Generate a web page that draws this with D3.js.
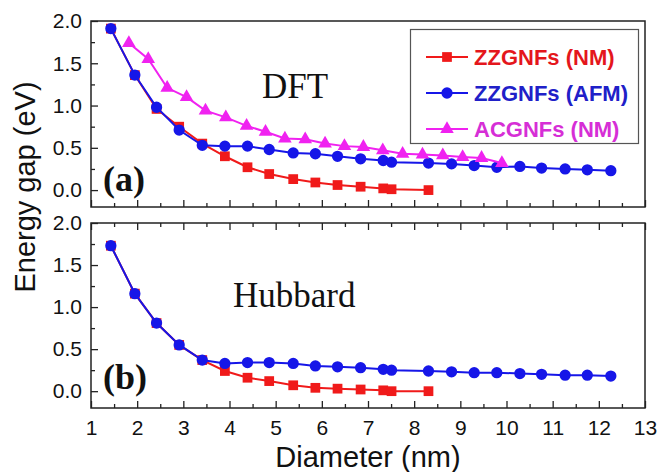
<!DOCTYPE html>
<html>
<head>
<meta charset="utf-8">
<script src="https://cdn.jsdelivr.net/npm/d3@7"></script>
<style>
    body { margin: 0; background: #ffffff; }
    .tick text { font-family: "Liberation Sans", Arial, sans-serif; font-size: 21px; fill: #111; }
    .tick line { stroke: #222; stroke-width: 1.3; }
</style>
</head>
<body>
<div id="chart-div"></div>
<script>
// ---- data ----
// DFT panel (a)
const dftZigzagX = [1.43, 1.95, 2.42, 2.91, 3.41, 3.90, 4.39, 4.86, 5.38, 5.86, 6.34, 6.84, 7.33, 7.51, 8.31];
const dftZigzagNM = [1.91, 1.36, 0.96, 0.75, 0.55, 0.40, 0.27, 0.19, 0.13, 0.09, 0.06, 0.04, 0.02, 0.01, 0.00];
const afmX = [1.43, 1.95, 2.42, 2.91, 3.41, 3.90, 4.39, 4.86, 5.38, 5.86, 6.34, 6.84, 7.33, 7.51, 8.31,
    8.81, 9.30, 9.79, 10.29, 10.76, 11.27, 11.75, 12.26];
const dftZigzagAFM = [1.91, 1.36, 0.98, 0.71, 0.53, 0.52, 0.52, 0.48, 0.44, 0.43, 0.40, 0.37, 0.35, 0.33, 0.32,
    0.31, 0.29, 0.27, 0.28, 0.26, 0.25, 0.24, 0.23];
const dftArmchairX = [1.82, 2.24, 2.65, 3.07, 3.48, 3.92, 4.37, 4.78, 5.20, 5.64, 6.07, 6.49, 6.90, 7.32,
    7.75, 8.18, 8.62, 9.05, 9.46, 9.90];
const dftArmchairNM = [1.74, 1.55, 1.21, 1.10, 0.94, 0.86, 0.76, 0.69, 0.61, 0.60, 0.55, 0.52, 0.51, 0.47,
    0.43, 0.42, 0.41, 0.39, 0.38, 0.32];
// Hubbard panel (b)
const hubZigzagNM = [1.73, 1.16, 0.81, 0.55, 0.37, 0.24, 0.16, 0.12, 0.07, 0.04, 0.03, 0.02, 0.01, 0.00, 0.00];
const hubZigzagAFM = [1.73, 1.16, 0.81, 0.55, 0.37, 0.33, 0.34, 0.34, 0.33, 0.30, 0.29, 0.28, 0.26, 0.25, 0.24,
    0.23, 0.22, 0.22, 0.21, 0.20, 0.19, 0.19, 0.18];

const xTicks = [1, 2, 3, 4, 5, 6, 7, 8, 9, 10, 11, 12, 13];
const yTicks = [0.0, 0.5, 1.0, 1.5, 2.0];
const legendLabels = ["ZZGNFs (NM)", "ZZGNFs (AFM)", "ACGNFs (NM)"];

const RED = "#f01a1a";
const BLUE = "#1616e8";
const MAGENTA = "#f022f0";

const WIDTH = 660;
const HEIGHT = 472;
const LEFT = 91;
const RIGHT = 645;

let svg = d3.select("#chart-div")
    .append("svg")
    .attr("width", WIDTH)
    .attr("height", HEIGHT);

let xScale = d3.scaleLinear().domain([1, 13]).range([LEFT, RIGHT]);

let panels = [
    { top: 21, bottom: 207, name: "DFT", nameX: 262, nameY: 98, tag: "(a)", tagY: 191, labels: false, topTicks: false },
    { top: 223, bottom: 408, name: "Hubbard", nameX: 233, nameY: 307, tag: "(b)", tagY: 389, labels: true, topTicks: true }
];

panels.forEach((p) => {
    p.yScale = d3.scaleLinear().domain([-0.2, 2.0]).range([p.bottom, p.top]);
});

function xy(xs, ys) {
    return ys.map((v, i) => ({ x: xs[i], y: v }));
}

panels[0].series = [
    { data: xy(dftZigzagX, dftZigzagNM), color: RED, symbol: d3.symbolSquare, size: 95 },
    { data: xy(afmX, dftZigzagAFM), color: BLUE, symbol: d3.symbolCircle, size: 100 },
    { data: xy(dftArmchairX, dftArmchairNM), color: MAGENTA, symbol: d3.symbolTriangle, size: 80 }
];
panels[1].series = [
    { data: xy(dftZigzagX, hubZigzagNM), color: RED, symbol: d3.symbolSquare, size: 95 },
    { data: xy(afmX, hubZigzagAFM), color: BLUE, symbol: d3.symbolCircle, size: 100 }
];

let minorX = d3.range(1.5, 13, 1);
let minorY = [-0.25 + 0.5, 0.75, 1.25, 1.75];

panels.forEach((p) => {
    let g = svg.append("g");

    // left axis, ticks pointing in
    g.append("g")
        .attr("transform", "translate(" + LEFT + ",0)")
        .call(d3.axisLeft(p.yScale).tickValues(yTicks).tickSize(-7).tickPadding(9).tickFormat(d3.format(".1f")))
        .call(a => a.select(".domain").remove());
    g.append("g")
        .attr("transform", "translate(" + LEFT + ",0)")
        .call(d3.axisLeft(p.yScale).tickValues(minorY).tickSize(-4).tickFormat(""))
        .call(a => a.select(".domain").remove());

    // bottom axis
    let bottomAxis = d3.axisBottom(xScale).tickValues(xTicks).tickSize(-7).tickPadding(12);
    if (!p.labels) bottomAxis.tickFormat("");
    g.append("g")
        .attr("transform", "translate(0," + p.bottom + ")")
        .call(bottomAxis)
        .call(a => a.select(".domain").remove());
    g.append("g")
        .attr("transform", "translate(0," + p.bottom + ")")
        .call(d3.axisBottom(xScale).tickValues(minorX).tickSize(-4).tickFormat(""))
        .call(a => a.select(".domain").remove());

    if (p.topTicks) {
        g.append("g")
            .attr("transform", "translate(0," + p.top + ")")
            .call(d3.axisTop(xScale).tickValues(xTicks).tickSize(-7).tickFormat(""))
            .call(a => a.select(".domain").remove());
        g.append("g")
            .attr("transform", "translate(0," + p.top + ")")
            .call(d3.axisTop(xScale).tickValues(minorX).tickSize(-4).tickFormat(""))
            .call(a => a.select(".domain").remove());
    }

    // frame
    g.append("rect")
        .attr("x", LEFT)
        .attr("y", p.top)
        .attr("width", RIGHT - LEFT)
        .attr("height", p.bottom - p.top)
        .attr("fill", "none")
        .attr("stroke", "#222")
        .attr("stroke-width", 1.5);

    // curves
    let line = d3.line().x(d => xScale(d.x)).y(d => p.yScale(d.y));
    p.series.forEach((s) => {
        g.append("path")
            .datum(s.data)
            .attr("d", line)
            .attr("fill", "none")
            .attr("stroke", s.color)
            .attr("stroke-width", 2);
        g.selectAll(null)
            .data(s.data)
            .enter()
            .append("path")
            .attr("transform", d => "translate(" + xScale(d.x) + "," + p.yScale(d.y) + ")")
            .attr("d", d3.symbol().type(s.symbol).size(s.size))
            .attr("fill", s.color);
    });

    // panel titles
    g.append("text")
        .attr("x", p.nameX)
        .attr("y", p.nameY)
        .style("font-family", "'Liberation Serif', 'Times New Roman', serif")
        .style("font-size", "35px")
        .attr("fill", "#111")
        .text(p.name);
    g.append("text")
        .attr("x", 103)
        .attr("y", p.tagY)
        .style("font-family", "'Liberation Serif', 'Times New Roman', serif")
        .style("font-size", "36px")
        .style("font-weight", "bold")
        .attr("fill", "#111")
        .text(p.tag);
});

// legend
let legend = svg.append("g");
legend.append("rect")
    .attr("x", 410.5)
    .attr("y", 29.5)
    .attr("width", 228)
    .attr("height", 114)
    .attr("fill", "#fff")
    .attr("stroke", "#555")
    .attr("stroke-width", 1.2);

let legendColors = [RED, BLUE, MAGENTA];
let legendText = ["#e4161c", "#2020c8", "#d62ed6"];
let legendSymbols = [[d3.symbolSquare, 95], [d3.symbolCircle, 100], [d3.symbolTriangle, 80]];
let legendY = d3.scalePoint().domain(legendLabels).range([57, 129]);

legendLabels.forEach((label, i) => {
    let y = legendY(label);
    legend.append("line")
        .attr("x1", 426).attr("x2", 468)
        .attr("y1", y).attr("y2", y)
        .attr("stroke", legendColors[i])
        .attr("stroke-width", 2);
    legend.append("path")
        .attr("transform", "translate(447," + y + ")")
        .attr("d", d3.symbol().type(legendSymbols[i][0]).size(legendSymbols[i][1]))
        .attr("fill", legendColors[i]);
    legend.append("text")
        .attr("x", 474)
        .attr("y", y)
        .attr("dy", "0.36em")
        .style("font-family", "'Liberation Sans', Arial, sans-serif")
        .style("font-size", "22px")
        .style("font-weight", "bold")
        .attr("fill", legendText[i])
        .text(label);
});

// axis titles
svg.append("text")
    .attr("x", (LEFT + RIGHT) / 2)
    .attr("y", 467)
    .attr("text-anchor", "middle")
    .style("font-family", "'Liberation Sans', Arial, sans-serif")
    .style("font-size", "29px")
    .attr("fill", "#111")
    .text("Diameter (nm)");

svg.append("text")
    .attr("transform", "translate(35,187)rotate(-90)")
    .attr("text-anchor", "middle")
    .style("font-family", "'Liberation Sans', Arial, sans-serif")
    .style("font-size", "29px")
    .attr("fill", "#111")
    .text("Energy gap (eV)");
</script>
</body>
</html>
